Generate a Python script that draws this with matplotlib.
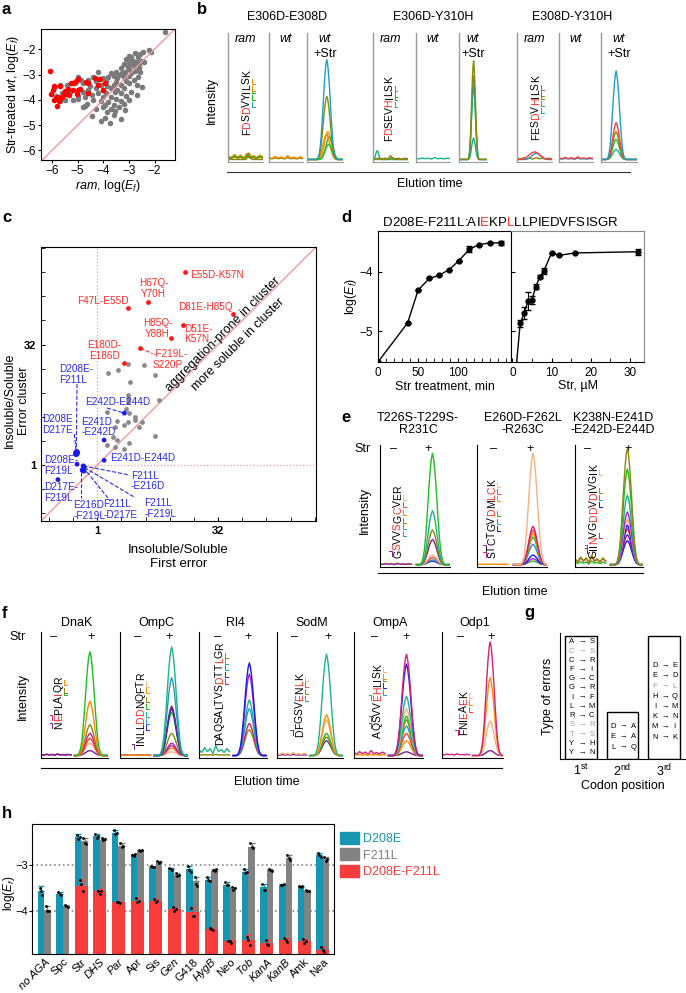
import numpy as np
import matplotlib
matplotlib.use("Agg")
import matplotlib.pyplot as plt
import matplotlib.transforms as mtransforms
from matplotlib.patches import Patch
from matplotlib.lines import Line2D
from matplotlib.textpath import TextPath
from matplotlib.font_manager import FontProperties

plt.rcParams['font.family'] = ['Liberation Sans', 'DejaVu Sans']
plt.rcParams['mathtext.fontset'] = 'custom'
plt.rcParams['mathtext.rm'] = 'Liberation Sans'
plt.rcParams['mathtext.it'] = 'Liberation Sans:italic'
plt.rcParams['axes.linewidth'] = 0.8

# ---------------- data ----------------
# a: log(Ef) ram vs Str-treated wt
a_gray_x = [-1.6, -2.2, -2.15, -2.45, -2.55, -2.75, -2.9, -2.65, -3.0,
            -2.5, -2.7, -2.85, -3.0, -3.1, -2.6, -2.8, -3.2, -2.4, -2.95,
            -3.3, -3.0, -2.75, -3.15, -3.5, -2.6, -2.9, -3.4, -3.7, -2.55, -3.05, -3.25, -4.2,
            -3.0, -3.2, -3.45, -3.6, -3.8, -4.0, -4.4, -4.6, -2.8, -3.1, -3.9, -4.3, -3.5, -2.65, -5.0, -4.85,
            -3.0, -3.3, -3.6, -3.85, -4.1, -4.5, -4.8, -5.1, -5.4, -2.7, -3.2, -3.7, -4.0, -4.3, -4.6, -5.7, -5.9, -2.5, -3.45,
            -2.9, -3.3, -3.55, -3.9, -4.2, -4.45, -4.8, -5.0, -5.3, -5.6, -3.1, -3.7, -4.0, -4.7, -2.7, -5.85,
            -3.0, -3.3, -3.5, -3.8, -4.1, -4.4, -4.65, -5.0, -5.2, -5.5, -3.6, -3.95, -3.2, -5.7,
            -3.4, -3.7, -4.0, -3.15, -3.55, -4.3, -4.8, -3.85, -4.7,
            -3.6, -4.45, -3.3, -4.1, -3.75, -3.95]
a_gray_y = [-1.3, -2.05, -2.1, -2.1, -2.2, -2.15, -2.3, -2.3, -2.25,
            -2.45, -2.5, -2.45, -2.5, -2.4, -2.6, -2.65, -2.6, -2.5, -2.6,
            -2.75, -2.8, -2.85, -2.9, -2.9, -2.75, -2.95, -3.0, -2.95, -2.9, -2.7, -2.95, -2.9,
            -3.05, -3.1, -3.15, -3.05, -3.1, -3.15, -3.1, -3.2, -3.2, -3.25, -3.25, -3.25, -3.3, -3.1, -3.1, -3.2,
            -3.35, -3.4, -3.4, -3.45, -3.4, -3.45, -3.35, -3.35, -3.4, -3.4, -3.55, -3.55, -3.6, -3.55, -3.6, -3.4, -3.5, -3.5, -3.6,
            -3.7, -3.75, -3.7, -3.75, -3.75, -3.8, -3.7, -3.85, -3.7, -3.75, -3.85, -3.9, -3.9, -3.9, -3.8, -3.85,
            -4.0, -4.05, -3.95, -4.1, -4.05, -4.0, -4.15, -3.95, -4.0, -4.0, -4.2, -4.2, -4.15, -4.05,
            -4.3, -4.35, -4.3, -4.4, -4.45, -4.35, -4.3, -4.5, -4.25,
            -4.6, -4.65, -4.75, -4.85, -4.9, -4.7]
a_red_x = [-6.09, -6.04, -5.96, -5.91, -5.93, -5.83, -5.78, -5.74, -5.80, -5.73, -5.70,
           -5.61, -5.54, -5.48, -5.41, -5.37, -5.35, -5.24, -5.18, -5.05, -5.00, -5.02,
           -4.92, -4.66, -4.61, -4.59, -4.33, -4.14, -3.92, -4.01, -4.19, -5.00, -5.18]
a_red_y = [-2.88, -3.77, -3.61, -3.45, -4.01, -3.91, -3.87, -3.98, -4.24, -4.05, -3.45,
           -3.90, -3.78, -3.64, -3.77, -3.58, -3.81, -3.32, -3.61, -3.25, -3.61, -3.78,
           -3.58, -3.28, -3.32, -3.74, -3.15, -3.17, -3.35, -3.61, -3.41, -3.19, -3.35]

# b: chromatograms
b_titles = ['E306D-E308D', 'E306D-Y310H', 'E308D-Y310H']
b_seqs = ['FDSDVYILSK', 'FDSEVHILSK', 'FESDVHILSK']
b_red = [[1, 3], [1, 5], [3, 5]]
b_brackets = [[(4, 'r', 't'), (5, 'r', 'g'), (6, 'r', 'g'), (7, 'r', 'or'), (8, 'r', 'or')],
              [(5, 'r', 't'), (6, 'r', 'g'), (7, 'r', 'g'), (8, 'r', 'o')],
              [(4, 'r', 't'), (5, 'r', 'g'), (6, 'r', 'o'), (7, 'r', 'o'), (8, 'r', 'r')]]
b_str_peaks = [[('or', 0.22, 0.58), ('g', 0.18, 0.62), ('or', 0.20, 0.54), ('g', 0.12, 0.60),
                ('o', 0.50, 0.55), ('t', 0.79, 0.55)],
               [('tg', 0.17, 0.52), ('g', 0.58, 0.52), ('t', 0.66, 0.52), ('o', 0.78, 0.52)],
               [('tg', 0.08, 0.42), ('g', 0.16, 0.42), ('o', 0.22, 0.42), ('r', 0.29, 0.42), ('t', 0.70, 0.42)]]
b_str_width = [0.28, 0.2, 0.27]
b_ram_base = [[('or', 1.0), ('g', 0.7), ('o', 0.5)], [('o', 0.3)], [('o', 0.3)]]
b_ram_humps = [[('o', 0.05, 0.6, 0.1)],
               [('tg', 0.07, 0.12, 0.12), ('o', 0.03, 0.5, 0.1)],
               [('t', 0.05, 0.55, 0.35), ('r', 0.06, 0.5, 0.45)]]
b_wt_base = [[('o', 0.3), ('or', 0.6)], [('tg', 0.3)], [('t', 0.2), ('r', 0.4)]]

# c: insoluble/soluble, log2 units
c_gray_x = [1.27, 1.92, 0.43, 0.86, 2.40, 1.35, 1.28, 2.55, 1.27, 1.20, 0.41, 1.56, 1.30, 0.81,
            1.25, 1.57, 1.12, 1.87, 0.73, 1.71, 0.63, 0.81, 2.40, 0.40, 0.74, 1.30, 1.12, 1.27]
c_gray_y = [4.20, 4.14, 3.83, 3.93, 3.72, 3.44, 2.92, 2.69, 2.61, 2.33, 2.19, 2.00, 2.14, 1.81,
            1.79, 1.88, 1.67, 1.78, 1.58, 1.58, 1.14, 1.03, 1.22, 0.83, 0.75, 0.89, 0.68, 2.75]
c_red_names = ['E55D-K57N', 'H67Q-Y70H', 'F47L-E55D', 'D81E-H85Q', 'D51E-K57N',
               'H85Q-Y88H', 'F219L-S220P', 'E180D-E186D']
c_red_x = [3.61, 2.09, 1.27, 5.63, 3.55, 3.03, 1.78, 1.10]
c_red_y = [8.01, 6.78, 6.50, 6.28, 5.83, 5.26, 4.85, 4.24]
c_blue_x = [-0.87, -0.85, 1.12, 0.28, 0.28, -0.84, -1.63, -0.58, -0.55, -0.62, -0.55]
c_blue_y = [0.46, 0.52, 2.15, 1.03, 0.19, 0.03, -0.61, -0.05, -0.10, -0.22, -0.25]
c_blue_size = [22, 22, 12, 12, 12, 12, 12, 14, 14, 14, 14]

# d: D208E-F211L error frequency
d_time = [0, 37, 50, 64, 76, 89, 101, 114, 126, 140, 153]
d_time_ef = [-5.52, -4.86, -4.31, -4.11, -4.06, -3.96, -3.81, -3.62, -3.54, -3.51, -3.51]
d_time_err = [0, 0, 0, 0, 0, 0, 0, 0.05, 0, 0, 0.03]
d_conc = [1, 2, 3, 4, 5, 6, 7, 8, 10, 12, 16, 32]
d_conc_ef = [-5.6, -4.87, -4.70, -4.49, -4.47, -4.25, -4.08, -3.99, -3.68, -3.72, -3.68, -3.66]
d_conc_err = [0, 0.06, 0.1, 0.15, 0.07, 0.04, 0.03, 0.05, 0, 0, 0, 0.05]

# e, f: chromatograms (peak heights, fraction of panel)
e_titles = ['T226S-T229S-\nR231C', 'E260D-F262L\n-R263C', 'K238N-E241D\n-E242D-E244D']
e_seqs = ['GSVVSGCVER', 'STCTGVDMLCK', 'GIINVGDDVDIVGIK']
e_red = [[1, 4, 6], [6, 8, 9], [3, 6, 7, 9]]
e_brackets = [[(1, 'l', 'p'), (3, 'r', 't'), (4, 'r', 'tg'), (5, 'r', 'o'), (6, 'r', 'or'), (7, 'r', 'r'), (8, 'r', 'lo')],
              [(1, 'l', 'm'), (2, 'l', 'v'), (4, 'r', 'b'), (5, 'r', 't'), (6, 'r', 'g'), (8, 'r', 'or'), (9, 'r', 'r'), (10, 'r', 'lo')],
              [(2, 'l', 'b'), (3, 'l', 'v'), (4, 'r', 'm'), (8, 'r', 'b'), (9, 'r', 't'), (10, 'r', 'o'), (13, 'r', 'lo')]]
e_peaks = [[('b', 0.03), ('t', 0.04), ('r', 0.06), ('lo', 0.08), ('p', 0.21), ('o', 0.29), ('tg', 0.45), ('g', 0.93)],
           [('g', 0.03), ('v', 0.05), ('b', 0.08), ('t', 0.17), ('g', 0.23), ('or', 0.26), ('r', 0.29), ('m', 0.32), ('lo', 0.93)],
           [('b', 0.20), ('p', 0.25), ('m', 0.30), ('b', 0.33), ('lo', 0.38), ('v', 0.44), ('tg', 0.58), ('g', 0.80), ('o', 0.97)]]
e_center = [0.75, 0.80, 0.77]
e_base = [[('lo', 0.3), ('p', 0.15)], [('or', 0.1)], [('g', 0.6), ('r', 1.4), ('o', 1.6)]]
e_marks = [(0.19, 0.69), (0.23, 0.76), (0.18, 0.78)]

f_names = ['DnaK', 'OmpC', 'Rl4', 'SodM', 'OmpA', 'Odp1']
f_seqs = ['NEPLAIQR', 'INLLDDNQFTR', 'DAQSALTVSDTTLGR', 'DFGSVENLK', 'AQSVVEHLISK', 'FNIEAEK']
f_red = [[1, 5], [4, 5], [9, 12], [5, 7], [5, 6], [3, 5]]
f_brackets = [[(1, 'l', 'p'), (2, 'l', 'm'), (5, 'r', 'g'), (6, 'r', 'o'), (7, 'r', 'or')],
              [(1, 'l', 'p'), (3, 'r', 'b'), (4, 'r', 't'), (5, 'r', 'tg'), (6, 'r', 'g'), (7, 'r', 'o'), (8, 'r', 'or'), (9, 'r', 'lo')],
              [(9, 'r', 'm'), (10, 'r', 'b'), (11, 'r', 't'), (12, 'r', 'tg'), (13, 'r', 'o')],
              [(1, 'l', 'p'), (5, 'r', 'tg'), (6, 'r', 'o'), (7, 'r', 'r'), (8, 'r', 'lo')],
              [(2, 'l', 'm'), (3, 'l', 'v'), (6, 'l', 'g'), (6, 'r', 't'), (7, 'r', 'b'), (8, 'r', 'o'), (9, 'r', 'or'), (10, 'r', 'lo')],
              [(1, 'l', 'm'), (4, 'r', 'r'), (5, 'r', 'or'), (6, 'r', 'lo')]]
f_peaks = [[('p', 0.04), ('lo', 0.10), ('r', 0.14), ('m', 0.18), ('o', 0.25), ('or', 0.44), ('g', 0.84)],
           [('lo', 0.03), ('or', 0.06), ('m', 0.08), ('v', 0.10), ('o', 0.18), ('g', 0.35), ('b', 0.38), ('p', 0.40), ('t', 0.63), ('tg', 0.88)],
           [('o', 0.21), ('m', 0.26), ('t', 0.38), ('tg', 0.45), ('v', 0.66), ('b', 0.75)],
           [('p', 0.12), ('o', 0.15), ('g', 0.18), ('lo', 0.29), ('or', 0.33), ('tg', 0.82)],
           [('p', 0.03), ('or', 0.12), ('r', 0.18), ('t', 0.24), ('o', 0.29), ('g', 0.32), ('lo', 0.38), ('tg', 0.48), ('b', 0.74), ('m', 0.82)],
           [('p', 0.04), ('lo', 0.28), ('or', 0.63), ('m', 0.92)]]
f_center = [0.73, 0.76, 0.74, 0.75, 0.76, 0.79]
f_base = [[('m', 0.3), ('p', 0.2)], [('p', 0.15), ('or', 0.1)], [('o', 0.2), ('tg', 1.6)],
          [('p', 0.2), ('lo', 0.5)], [('m', 0.8), ('or', 0.2)], [('m', 0.3)]]
f_marks = [(0.18, 0.74), (0.26, 0.72), (0.27, 0.72), (0.26, 0.77), (0.29, 0.76), (0.30, 0.80)]

# g: error types per codon position
g_positions = ['1$^{\\rm st}$', '2$^{\\rm nd}$', '3$^{\\rm rd}$']
g_box_height = [0.98, 0.37, 0.98]
g_errors = [[('A', 'S', 0), ('C', 'S', 1), ('C', 'R', 0), ('F', 'I', 0), ('G', 'C', 0), ('G', 'R', 0),
             ('I', 'F', 0), ('L', 'M', 0), ('R', 'C', 0), ('S', 'R', 1), ('T', 'S', 1), ('Y', 'H', 0), ('Y', 'N', 0)],
            [('D', 'A', 0), ('E', 'A', 0), ('L', 'Q', 0)],
            [('D', 'E', 0), ('E', 'D', 0), ('F', 'L', 1), ('H', 'Q', 0), ('I', 'M', 0), ('K', 'N', 0),
             ('M', 'I', 0), ('N', 'K', 0)]]

# h: log(Ef) per aminoglycoside
h_drugs = ['no AGA', 'Spc', 'Str', 'DHS', 'Par', 'Apr', 'Sis', 'Gen', 'G418', 'HygB',
           'Neo', 'Tob', 'KanA', 'KanB', 'Amk', 'Nea']
h_italic = [1, 0, 0, 1, 1, 0, 0, 1, 0, 1, 0, 1, 1, 1, 0, 0]
h_d208e = [-3.56, -3.63, -2.37, -2.35, -2.29, -2.79, -3.04, -3.09, -3.09, -3.32,
           -3.43, -3.14, -3.49, -3.43, -3.47, -2.77]
h_f211l = [-3.99, -3.91, -2.47, -2.44, -2.57, -2.68, -2.93, -3.21, -3.35, -3.12,
           -3.51, -2.59, -3.10, -2.85, -3.56, -2.87]
h_double = [np.nan, np.nan, -3.46, -3.58, -3.82, -3.78, -3.79, -3.97, -4.03, -4.41,
            -4.68, -4.65, -4.71, -4.66, -4.68, -4.87]
h_rep_d208e = [(0.05, -0.02, -0.10), (0.03, 0.0, -0.03), (0.04, -0.06, 0.0), (0.05, -0.05, 0.0),
               (0.06, -0.03, 0.0), (0.02, 0.0, 0.03), (0.02, 0.0, -0.01), (0.02, 0.0, -0.01),
               (0.08, -0.02, -0.06), (0.05, 0.0, -0.02), (0.06, 0.0, 0.0), (0.05, -0.03, 0.0),
               (0.07, -0.06, -0.06), (0.0, 0.0, 0.02), (0.02, 0.0, 0.01), (0.05, 0.0, -0.04)]
h_rep_f211l = [(0.08, -0.02, -0.03), (0.03, 0.0, -0.02), (0.08, -0.03, -0.07), (0.04, -0.01, 0.01),
               (0.05, -0.02, 0.0), (0.01, 0.0, 0.01), (0.02, -0.01, 0.0), (0.03, -0.02, 0.0),
               (0.10, -0.06, -0.10), (0.02, -0.01, 0.03), (0.04, -0.03, 0.0), (0.07, 0.0, -0.04),
               (0.02, 0.0, -0.02), (0.07, 0.0, -0.04), (0.01, 0.0, -0.02), (0.06, -0.04, 0.0)]
h_rep_double = [None, None, (0.13, 0.05, -0.10), (0.02, -0.05, 0.0), (0.01, 0.0, -0.01),
                (0.05, -0.03, 0.0), (0.04, -0.03, 0.0), (0.04, -0.03, 0.0), (0.08, -0.10, -0.09),
                (0.02, 0.0, -0.01), (0.01, 0.0, -0.03), (0.07, 0.0, -0.12), (0.06, -0.02, -0.05),
                (0.06, 0.0, -0.03), (0.06, -0.03, 0.0), (0.07, 0.0, -0.05)]

# shared trace shapes
PEAK = [0, 0.01, 0.03, 0.07, 0.14, 0.25, 0.39, 0.55, 0.71, 0.85, 0.95, 1.0,
        0.95, 0.85, 0.71, 0.55, 0.39, 0.25, 0.14, 0.07, 0.03, 0.01, 0]
WIGGLE = [0.03, 0.015, 0.04, 0.02, 0.035, 0.01, 0.05, 0.02, 0.03, 0.015, 0.035, 0.02]

COL = {'g': '#1fbf1f', 'tg': '#1db38a', 't': '#1e9ec4', 'o': '#8a8a0a', 'p': '#7a1f8f',
       'm': '#d4207a', 'r': '#ff3b3b', 'or': '#ff8a00', 'lo': '#f6b27e', 'b': '#1818f0',
       'v': '#b020d0'}
RED = '#ff2a2a'
BLUE = '#2a2aee'
TEAL = '#1796b2'
GRAY = '#828282'
HRED = '#f83c3c'

# ---------------- figure ----------------
W, H = 686, 993
fig = plt.figure(figsize=(6.86, 9.93), dpi=100)


def box(l, t, r, b):
    return fig.add_axes([l / W, 1 - b / H, (r - l) / W, (b - t) / H])


def ftext(x, y, s, **kw):
    fig.text(x / W, 1 - y / H, s, **kw)


def fline(x0, x1, y, color='black', lw=0.8):
    fig.add_artist(Line2D([x0 / W, x1 / W], [1 - y / H, 1 - y / H],
                          transform=fig.transFigure, color=color, lw=lw))


def peak(ax, col, h, c, w, x0=0.0, x1=1.0, lw=1.0):
    xs = np.concatenate([[x0], c + w * np.linspace(-1, 1, len(PEAK)), [x1]])
    ys = np.concatenate([[0], h * np.array(PEAK), [0]])
    ax.plot(xs, ys, color=COL[col], lw=lw)


def wiggle(ax, col, s, x0=0.0, x1=1.0, lw=1.0):
    xs = np.linspace(x0, x1, len(WIGGLE))
    ax.plot(xs, s * np.array(WIGGLE), color=COL[col], lw=lw)


def letter_offsets(seq, fp):
    # ink-left position of every letter, in points, from the start of the word
    first = TextPath((0, 0), seq[0], prop=fp).get_extents().x0
    offs = []
    for i, ch in enumerate(seq):
        pre = TextPath((0, 0), seq[:i + 1], prop=fp).get_extents()
        one = TextPath((0, 0), ch, prop=fp).get_extents()
        offs.append(pre.x1 - one.x1 + one.x0 - first)
    return offs


def colour_word(x, y, seq, cols, fs, rotation, transform):
    fp = FontProperties(family='Liberation Sans', size=fs)
    offs = letter_offsets(seq, fp)
    for ch, off, cc in zip(seq, offs, cols):
        dx, dy = (0, off) if rotation == 90 else (off, 0)
        tr = mtransforms.offset_copy(transform, fig=fig, x=dx, y=dy, units='points')
        fig.text(x, y, ch, color=cc, rotation=rotation, rotation_mode='anchor', ha='left',
                 va='baseline', fontsize=fs, transform=tr)
    return fp


def seq_rot(ax, x, y, seq, red, brackets, fs=8):
    cols = [RED if i in red else 'black' for i in range(len(seq))]
    fp = colour_word(x, y, seq, cols, fs, 90, ax.transAxes)
    tr = (mtransforms.Affine2D().scale(1 / 72) + fig.dpi_scale_trans
          + mtransforms.ScaledTranslation(x, y, ax.transAxes))
    first = TextPath((0, 0), seq[0], prop=fp).get_extents().x0
    p = 0.6 * fs
    for k, side, col in brackets:
        d = TextPath((0, 0), seq[:k], prop=fp).get_extents().x1 - first + 0.5
        if side == 'r':
            x0 = 1.5
            pts = [(x0 + 2, d), (x0, d), (x0, d + p * 0.8)]
        else:
            x0 = -0.75 * fs - 1.2
            pts = [(x0 - 2, d), (x0, d), (x0, d - p * 0.8)]
        xs, ys = zip(*pts)
        ax.add_line(Line2D(xs, ys, transform=tr, color=COL[col], lw=0.7, clip_on=False))


def chrom_axes(ax, color='black'):
    ax.set_xlim(0, 1)
    ax.set_ylim(-0.02, 1)
    for s in ['top', 'right']:
        ax.spines[s].set_visible(False)
    ax.spines['left'].set_color(color)
    ax.spines['bottom'].set_color(color)
    ax.set_xticks([])
    ax.set_yticks([])
    ax.patch.set_alpha(0)


for lab, x, y in [('a', 2, 10), ('b', 197, 10), ('c', 2, 217), ('d', 341, 217),
                  ('e', 341, 417), ('f', 2, 613), ('g', 524, 613), ('h', 2, 813)]:
    ftext(x, y, lab, fontsize=12, fontweight='bold', va='center')

# ---- a ----
ax = box(41, 29, 175, 160)
ax.plot([-6.43, -1.2], [-6.43, -1.2], color='#f29a9a', lw=1)
ax.scatter(a_gray_x, a_gray_y, s=16, color='#7a7a7a', linewidths=0)
ax.scatter(a_red_x, a_red_y, s=16, color='#ff0000', linewidths=0)
ax.set_xlim(-6.43, -1.2)
ax.set_ylim(-6.38, -1.2)
ax.set_xticks([-6, -5, -4, -3, -2])
ax.set_yticks([-6, -5, -4, -3, -2])
ax.tick_params(labelsize=8.5, length=2.5, width=0.8, pad=1)
ax.set_xlabel('$\\it{ram}$, log($E_f$)', fontsize=9, labelpad=1)
ax.set_ylabel('Str-treated $\\it{wt}$, log($E_f$)', fontsize=9)
ax.yaxis.set_label_coords(-0.15, 0.5)

# ---- b ----
b_axes = [[(228, 263), (269, 303), (307, 343)],
          [(373, 408), (416, 450), (459, 487)],
          [(517, 552), (559, 593), (601, 637)]]
b_title_x = [287, 433, 572]
b_seq_x = [0.63, 0.56, 0.63]
b_seq_y = [0.21, 0.16, 0.17]
for gi in range(3):
    ftext(b_title_x[gi], 17, b_titles[gi], fontsize=9, ha='center', va='center')
    for pi in range(3):
        l, r = b_axes[gi][pi]
        ax = box(l, 33, r, 162)
        chrom_axes(ax, '#9a9a9a')
        ax.spines['left'].set_linewidth(1.0)
        if pi == 0:
            for col, s in b_ram_base[gi]:
                wiggle(ax, col, s)
            for col, h, c, w in b_ram_humps[gi]:
                peak(ax, col, h, c, w)
            ax.text(0.5, 0.95, 'ram', style='italic', fontsize=9, ha='center', va='center',
                    transform=ax.transAxes)
            seq_rot(ax, b_seq_x[gi], b_seq_y[gi], b_seqs[gi], b_red[gi], b_brackets[gi], fs=7.5)
        elif pi == 1:
            for col, s in b_wt_base[gi]:
                wiggle(ax, col, s)
            ax.text(0.5, 0.95, 'wt', style='italic', fontsize=9, ha='center', va='center',
                    transform=ax.transAxes)
        else:
            for col, h, c in b_str_peaks[gi]:
                peak(ax, col, h, c, b_str_width[gi])
            ax.text(0.5, 0.95, 'wt', style='italic', fontsize=9, ha='center', va='center',
                    transform=ax.transAxes)
            ax.text(0.5, 0.84, '+Str', fontsize=9, ha='center', va='center',
                    transform=ax.transAxes)
ftext(212, 100, 'Intensity', fontsize=9, rotation=90, ha='center', va='center')
fline(227, 630, 172, color='#333333')
ftext(430, 184, 'Elution time', fontsize=9, ha='center', va='center')

# ---- c ----
ax = box(41, 247, 316, 521)
lo, hi = 2 ** -2.33, 2 ** 9.05
ax.set_xscale('log', base=2)
ax.set_yscale('log', base=2)
ax.set_xlim(lo, hi)
ax.set_ylim(lo, hi)
ax.plot([lo, hi], [lo, hi], color='#f29a9a', lw=1)
ax.axvline(1, color='#f29a9a', ls=':', lw=0.9)
ax.axhline(1, color='#f29a9a', ls=':', lw=0.9)
ax.scatter(np.power(2.0, c_gray_x), np.power(2.0, c_gray_y), s=12, color='#8a8a8a', linewidths=0, zorder=3)
ax.scatter(np.power(2.0, c_red_x), np.power(2.0, c_red_y), s=12, color='#ff1a1a', linewidths=0, zorder=3)
ax.scatter(np.power(2.0, c_blue_x), np.power(2.0, c_blue_y), s=c_blue_size, color='#1a1aee', linewidths=0, zorder=3)
ax.set_xticks([1, 32])
ax.set_yticks([1, 32])
ax.set_xticklabels(['1', '32'], fontweight='bold')
ax.set_yticklabels(['1', '32'], fontweight='bold')
minor = [2.0 ** k for k in range(-2, 10) if k not in (0, 5)]
ax.set_xticks(minor, minor=True)
ax.set_yticks(minor, minor=True)
ax.xaxis.set_minor_formatter(matplotlib.ticker.NullFormatter())
ax.yaxis.set_minor_formatter(matplotlib.ticker.NullFormatter())
ax.tick_params(which='both', direction='in', length=3, labelsize=8)
ax.set_xlabel('Insoluble/Soluble\nFirst error', fontsize=9.5, labelpad=6)
ax.set_ylabel('Insoluble/Soluble\nError cluster', fontsize=9)
ax.yaxis.set_label_coords(-0.04, 0.44)

P2 = lambda v: 2.0 ** v
red_labels = [('E55D-K57N', 3.84, 7.88, 'left'), ('H67Q-\nY70H', 2.33, 7.34, 'center'),
              ('F47L-E55D', 0.25, 6.80, 'center'), ('D81E-H85Q', 4.48, 6.55, 'center'),
              ('H85Q-\nY88H', 2.49, 5.68, 'center'), ('D51E-\nK57N', 3.61, 5.44, 'left'),
              ('E180D-\nE186D', 0.30, 4.76, 'center'), ('-F219L-\nS220P', 2.29, 4.38, 'left')]
for s, x, y, ha in red_labels:
    ax.text(P2(x), P2(y), s, color=RED, fontsize=7.2, ha=ha, va='center', linespacing=1.1)
ax.plot([P2(1.78), P2(2.29)], [P2(4.85), P2(4.62)], color=RED, ls='--', lw=0.8)

blue_labels = [('D208E-\nF211L', -1.60, 3.76), ('E242D-E244D', -0.52, 2.60),
               ('D208E\nD217E', -2.29, 1.68), ('E241D\n-E242D', -0.66, 1.57),
               ('E241D-E244D', 0.54, 0.29), ('D208E-\nF219L', -2.22, -0.01),
               ('D217E-\nF219L', -2.22, -1.13), ('F211L\n-E216D', 1.39, -0.67),
               ('E216D\n-F219L', -1.00, -1.89), ('F211L\n-D217E', 0.26, -1.86),
               ('F211L\n-F219L', 1.94, -1.82)]
for s, x, y in blue_labels:
    ax.text(P2(x), P2(y), s, color=BLUE, fontsize=7.2, ha='left', va='center', linespacing=1.1)
blue_lines = [((-0.84, 3.36), (-0.87, 0.58)), ((0.40, 2.36), (1.12, 2.15)),
              ((-0.95, 1.28), (-0.87, 0.50)), ((-0.58, -0.04), (1.34, -0.42)),
              ((-0.67, -0.28), (-0.67, -1.36)), ((-0.58, -0.10), (0.54, -1.50)),
              ((-0.53, -0.11), (1.57, -1.36))]
for (x0, y0), (x1, y1) in blue_lines:
    ax.plot([P2(x0), P2(x1)], [P2(y0), P2(y1)], color=BLUE, ls='--', lw=0.8)
ax.text(P2(5.22), P2(5.42), 'aggregation-prone in cluster', rotation=45, fontsize=9,
        ha='center', va='center')
ax.text(P2(5.83), P2(5.00), 'more soluble in cluster', rotation=45, fontsize=9,
        ha='center', va='center')

# ---- d ----
title = 'D208E-F211L:AIEKPLLLPIEDVFSISGR'
tcols = ['black'] * len(title)
tcols[14] = RED
tcols[17] = RED
colour_word(383 / W, 1 - 226 / H, title, tcols, 9.5, 0, fig.transFigure)

axl = box(378, 231, 511, 362)
axr = box(511, 231, 644, 362)
axl.errorbar(d_time, d_time_ef, yerr=d_time_err, color='black', marker='o', ms=3.5,
             lw=1, capsize=2, elinewidth=0.8)
axr.errorbar(d_conc, d_conc_ef, yerr=d_conc_err, color='black', marker='o', ms=3.5,
             lw=1, capsize=2, elinewidth=0.8)
for a_ in (axl, axr):
    a_.set_ylim(-5.52, -3.31)
    a_.set_yticks([-5, -4])
    a_.tick_params(direction='in', length=3, labelsize=8.5, which='both')
axl.set_xlim(0, 166)
axl.set_xticks([0, 50, 100])
axl.xaxis.set_minor_locator(matplotlib.ticker.MultipleLocator(10))
axl.set_xlabel('Str treatment, min', fontsize=9, labelpad=1)
axl.set_ylabel('log($E_f$)', fontsize=9)
axl.yaxis.set_label_coords(-0.14, 0.5)
axr.set_xlim(-0.34, 33.6)
axr.set_xticks([0, 10, 20, 30])
axr.xaxis.set_minor_locator(matplotlib.ticker.MultipleLocator(5))
axr.set_yticklabels([])
axr.set_xlabel('Str, µM', fontsize=9, labelpad=1)
for s in ['top', 'right']:
    axr.spines[s].set_color('#888888')

# ---- e ----
e_axes = [(380, 450), (477, 547), (575, 643)]
e_title_x = [418, 523, 613]
e_seq_x = [0.30, 0.26, 0.32]
for i in range(3):
    l, r = e_axes[i]
    ax = box(l, 445, r, 567)
    chrom_axes(ax)
    for col, s in e_base[i]:
        wiggle(ax, col, s, 0.0, 0.45)
    for col, h in e_peaks[i]:
        peak(ax, col, h, e_center[i], 0.18, 0.52, 1.0)
    mx, px_ = e_marks[i]
    ax.text(mx, 0.97, '–', fontsize=9, ha='center', va='center', transform=ax.transAxes)
    ax.text(px_, 0.97, '+', fontsize=9, ha='center', va='center', transform=ax.transAxes)
    seq_rot(ax, e_seq_x[i], 0.07, e_seqs[i], e_red[i], e_brackets[i], fs=7.5)
    ftext(e_title_x[i], 424, e_titles[i], fontsize=9, ha='center', va='center', linespacing=1.1)
ftext(363, 449, 'Str', fontsize=9, ha='center', va='center')
ftext(365, 510, 'Intensity', fontsize=9, rotation=90, ha='center', va='center')
fline(378, 643, 573)
ftext(515, 592, 'Elution time', fontsize=9, ha='center', va='center')

# ---- f ----
f_axes = [(41, 108), (120, 188), (199, 267), (277, 343), (354, 423), (442, 503)]
f_seq_x = [0.31, 0.35, 0.35, 0.39, 0.39, 0.41]
f_seq_y = [0.23, 0.10, 0.10, 0.17, 0.16, 0.18]
for i in range(6):
    l, r = f_axes[i]
    ax = box(l, 632, r, 758)
    chrom_axes(ax)
    for col, s in f_base[i]:
        wiggle(ax, col, s, 0.0, 0.45)
    for col, h in f_peaks[i]:
        peak(ax, col, h, f_center[i], 0.19, 0.5, 1.0)
    mx, px_ = f_marks[i]
    ax.text(mx, 0.96, '–', fontsize=9, ha='center', va='center', transform=ax.transAxes)
    ax.text(px_, 0.96, '+', fontsize=9, ha='center', va='center', transform=ax.transAxes)
    seq_rot(ax, f_seq_x[i], f_seq_y[i], f_seqs[i], f_red[i], f_brackets[i], fs=7.5)
    ftext((l + r) / 2 + 2, 623, f_names[i], fontsize=9, ha='center', va='center')
ftext(18, 637, 'Str', fontsize=9, ha='center', va='center')
ftext(23, 697, 'Intensity', fontsize=9, rotation=90, ha='center', va='center')
fline(41, 502, 768)
ftext(267, 782, 'Elution time', fontsize=9, ha='center', va='center')

# ---- g ----
ax = box(560, 633, 686, 759)
ax.bar(range(3), g_box_height, width=0.77, facecolor='white', edgecolor='black', lw=1)
ax.set_xlim(-0.506, 2.53)
ax.set_ylim(0, 1)
for s in ['top', 'right']:
    ax.spines[s].set_visible(False)
ax.set_xticks(range(3))
ax.set_xticklabels(g_positions, fontsize=9)
ax.tick_params(axis='x', length=0, pad=3)
ax.set_yticks([])
ax.set_xlabel('Codon position', fontsize=9, labelpad=0)
ax.set_ylabel('Type of errors', fontsize=9, labelpad=4)
g_row_top = [0.93, 0.26, 0.74]
g_row_step = [0.0733, 0.083, 0.081]
for j in range(3):
    for k, (a1, a2, grey) in enumerate(g_errors[j]):
        yy = g_row_top[j] - k * g_row_step[j]
        cc = '#9a9a9a' if grey else 'black'
        ax.text(j - 0.22, yy, a1, fontsize=5.5, color=cc, ha='center', va='center')
        ax.text(j + 0.03, yy, '→', fontsize=5.5, color=cc, ha='center', va='center')
        ax.text(j + 0.26, yy, a2, fontsize=5.5, color=cc, ha='center', va='center')

# ---- h ----
ax = box(32, 824, 334, 954)
xs = np.arange(len(h_drugs))
base = -5.0
ax.axhline(-3, color='#888888', ls=':', lw=1.2, zorder=0)
ax.axhline(-4, color='#888888', ls=':', lw=1.2, zorder=0)
ax.bar(xs - 0.175, np.array(h_d208e) - base, bottom=base, width=0.35, color=TEAL, zorder=1)
ax.bar(xs + 0.175, np.array(h_f211l) - base, bottom=base, width=0.35, color=GRAY, zorder=1)
ax.bar(xs, np.array(h_double) - base, bottom=base, width=0.70, color=HRED, zorder=2)
for vals, reps, dx, col, z in [(h_d208e, h_rep_d208e, -0.175, TEAL, 1.5),
                               (h_f211l, h_rep_f211l, 0.175, GRAY, 1.5),
                               (h_double, h_rep_double, 0.0, HRED, 2.5)]:
    for i, (v, rep) in enumerate(zip(vals, reps)):
        if rep is None:
            continue
        up = max(abs(r_) for r_ in rep)
        ax.errorbar(i + dx, v, yerr=[[0], [up]], color=col, capsize=2.5, elinewidth=1,
                    capthick=1, zorder=z)
        ax.scatter([i + dx - 0.08, i + dx, i + dx + 0.08], [v + r_ for r_ in rep],
                   s=4, color='black', zorder=z + 0.2, linewidths=0)
ax.set_xlim(-0.66, 15.61)
ax.set_ylim(-4.96, -2.09)
ax.set_yticks([-3, -4])
ax.tick_params(axis='y', labelsize=8, length=2.5, pad=0.5)
ax.set_xticks(xs)
ax.set_xticklabels(h_drugs, rotation=45, ha='right', rotation_mode='anchor', fontsize=8)
for lbl, it in zip(ax.get_xticklabels(), h_italic):
    lbl.set_style('italic' if it else 'normal')
ax.tick_params(axis='x', length=0, pad=2)
ax.set_ylabel('log($E_f$)', fontsize=8.5)
ax.yaxis.set_label_coords(-0.05, 0.47)
fig.legend(handles=[Patch(color=TEAL), Patch(color=GRAY), Patch(color=HRED)],
           labels=['D208E', 'F211L', 'D208E-F211L'], labelcolor=[TEAL, GRAY, HRED],
           loc='upper left', bbox_to_anchor=(340 / W, 1 - 832 / H), frameon=False,
           fontsize=9, handlelength=1.5, handleheight=1.1, labelspacing=0.25,
           borderpad=0, borderaxespad=0, handletextpad=0.3)

fig.savefig('out.png', dpi=100)
